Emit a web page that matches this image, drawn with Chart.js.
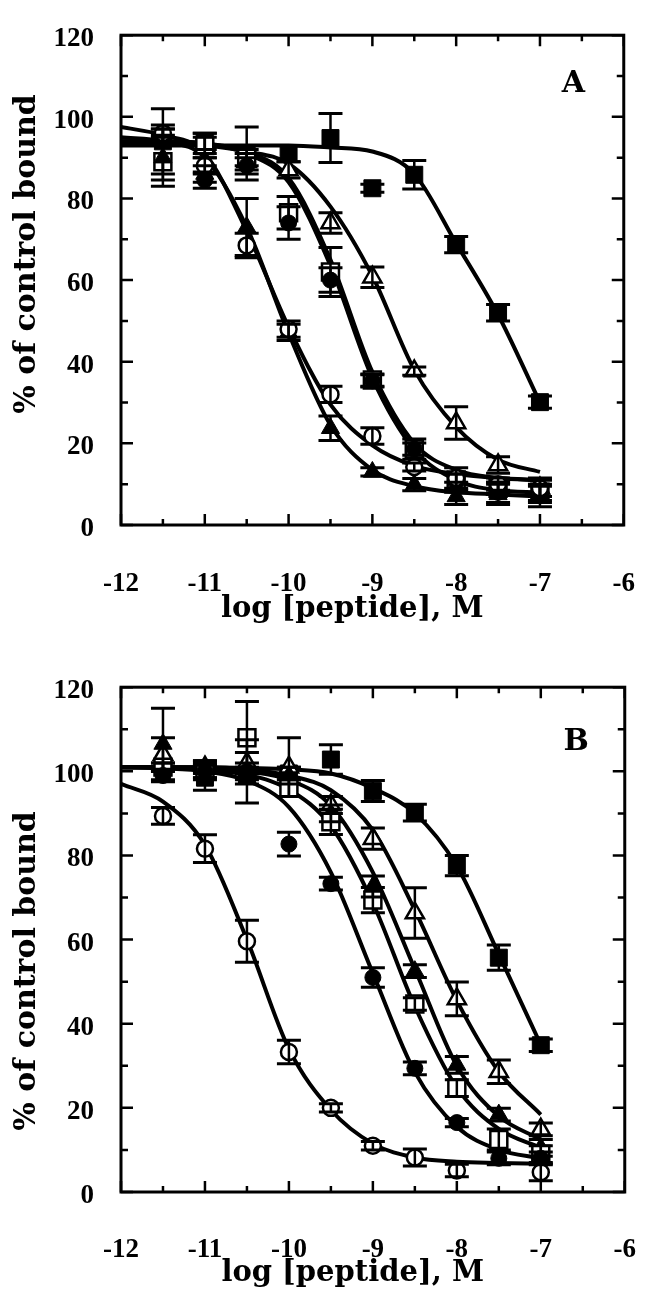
<!DOCTYPE html>
<html>
<head>
<meta charset="utf-8">
<script src="https://cdn.jsdelivr.net/npm/chart.js@4.4.1/dist/chart.umd.min.js"></script>
<style>
  body { margin: 0; background: #fff; }
  canvas { display: block; }
</style>
</head>
<body>
<canvas id="chartA" width="670" height="652"></canvas>
<canvas id="chartB" width="670" height="652"></canvas>
<script>
// log [peptide] values where binding was measured
const doses = [-11.5, -11, -10.5, -10, -9.5, -9, -8.5, -8, -7.5, -7];
const fitX = [-12, -11.5, -11, -10.5, -10, -9.5, -9, -8.5, -8, -7.5, -7];
const xTickValues = [-12, -11, -10, -9, -8, -7, -6];
const yTickValues = [0, 20, 40, 60, 80, 100, 120];

// ---- Panel A ----
const aOpenCircle     = [96, 88, 68.5, 48, 32, 21.8, 14.2, 11.5, 10, 9];
const aOpenCircleErr  = [2, 2, 3, 2, 2, 2, 1, 1, 1.5, 2];
const aOpenCircleFit  = [97.5, 95.5, 91, 72, 48.5, 29.5, 19.5, 14.5, 12.5, 11.5, 11];

const aFilledTri      = [90, 86, 73, 47.2, 23.7, 13, 9.9, 7, 7.5, 7.5];
const aFilledTriErr   = [5.5, 2, 7, 2, 3, 1, 1.5, 2, 2.5, 2];
const aFilledTriFit   = [95, 94, 90, 73, 47, 24.5, 13.5, 9.5, 8, 7.5, 7];

const aFilledCircle    = [95, 84.5, 88, 74, 60, 35.3, 18.6, 10.5, 8, 8];
const aFilledCircleErr = [2, 2, 2, 4, 3, 1.5, 2.5, 2, 2.5, 3.5];
const aFilledCircleFit = [94, 94, 93.5, 91, 84, 63.5, 36, 18.5, 11, 8.5, 8];

const aOpenSquare     = [89, 93, 90, 76.5, 62, 35.5, 18.6, 11, 9, 8];
const aOpenSquareErr  = [6, 3, 2, 4, 6, 1.5, 1.5, 3, 1.5, 2];
const aOpenSquareFit  = [94, 94, 93.5, 91.5, 85, 65, 37.5, 20, 13.5, 11.5, 11];

const aOpenTri        = [95, 93, 89, 87, 74, 60.7, 37.7, 25, 14.7, 9];
const aOpenTriErr     = [2, 2, 2, 2, 2.5, 2.5, 1, 4, 2, 2];
const aOpenTriFit     = [93.5, 93.5, 93, 91.5, 88.5, 78, 61, 38, 24, 16, 13];

const aFilledSquare    = [94, 94, 91, 91, 94.8, 82.5, 85.8, 68.7, 52, 30.1];
const aFilledSquareErr = [8, 2, 6.5, 2, 6, 1, 3.5, 2, 2, 1.5];
const aFilledSquareFit = [93, 93, 93, 93, 93, 92.5, 91.5, 86, 69, 51.5, 30];

// ---- Panel B ----
const bOpenCircle     = [89.4, 81.6, 59.6, 33.3, 20, 11, 8.2, 5.1, null, 4.7];
const bOpenCircleErr  = [2, 3.3, 5, 2.8, 1, 1, 2, 1.5, 0, 2];
const bOpenCircleFit  = [97, 92.8, 82.5, 60, 34, 19.5, 11.5, 8.2, 7.2, 6.9, 6.7];

const bFilledCircle    = [99, 100, 100, 82.7, 73.3, 51, 29.4, 16.5, 8, 8];
const bFilledCircleErr = [1.5, 1.5, 2, 2.8, 1.5, 2.3, 1.5, 1, 1.5, 1.5];
const bFilledCircleFit = [101, 100.7, 100, 97.8, 91.5, 76, 52, 28.5, 15.5, 10, 8];

const bOpenSquare     = [101, 100.5, 108, 96, 88, 69.4, 44.7, 24.7, 12.5, 9];
const bOpenSquareErr  = [1, 2, 8.6, 2, 3, 3, 1.5, 2, 2.5, 2];
const bOpenSquareFit  = [101, 101, 100.4, 99.2, 95.7, 87, 68.7, 44.1, 24.8, 15, 10.5];

const bFilledTri      = [106.5, 100, 100, 99, 90, 72.6, 52.5, 30.2, 18.4, 10.5];
const bFilledTriErr   = [8.5, 2, 7.5, 2, 2, 2.5, 1.5, 2, 1.5, 2];
const bFilledTriFit   = [101, 101, 100.8, 100, 98, 91.8, 76, 53, 30, 18, 12.5];

const bOpenTri        = [104, 101, 102, 101, 92, 84, 66.3, 45.9, 28.6, 14.9];
const bOpenTriErr     = [4, 1.5, 2.5, 7, 2, 2.5, 6, 4, 2.8, 1.5];
const bOpenTriFit     = [101, 101, 101, 100.5, 99, 95.5, 86, 67, 45.5, 28.6, 18.4];

const bFilledSquare    = [101, 98.5, 99, 99.5, 102.8, 95.3, 90.2, 77.6, 55.7, 34.9];
const bFilledSquareErr = [1, 3, 2, 1.5, 3.5, 2.5, 2, 2.4, 3, 1.5];
const bFilledSquareFit = [101, 101, 101, 100.8, 100.5, 99.5, 96, 90, 77.5, 56.5, 35];

const markerRadius = { circle: 8, rect: 12, triangle: 10.5 };

// one marker dataset plus its fitted curve
function seriesSets(values, errors, fit, style, filled) {
    return [
        {
            type: 'scatter',
            data: doses.map((d, i) => ({ x: d, y: values[i] })),
            errors: errors,
            pointStyle: style,
            pointRadius: markerRadius[style],
            backgroundColor: filled ? '#000' : '#fff',
            borderColor: '#000',
            borderWidth: filled ? 1 : 2.5,
            order: 0
        },
        {
            type: 'line',
            data: fitX.map((d, i) => ({ x: d, y: fit[i] })),
            borderColor: '#000',
            borderWidth: 4,
            pointRadius: 0,
            fill: false,
            cubicInterpolationMode: 'monotone',
            order: 1
        }
    ];
}

// error bars with caps, drawn on top of the markers
const errorBarPlugin = {
    id: 'errorBars',
    afterDatasetsDraw(chart) {
        const { ctx, scales: { x, y } } = chart;
        ctx.save();
        ctx.strokeStyle = '#000';
        chart.data.datasets.forEach(ds => {
            if (!ds.errors) return;
            ds.data.forEach((pt, i) => {
                const e = ds.errors[i];
                if (pt.y == null || !e) return;
                const px = x.getPixelForValue(pt.x);
                const top = y.getPixelForValue(pt.y + e);
                const bot = y.getPixelForValue(pt.y - e);
                ctx.lineWidth = 2.5;
                ctx.beginPath();
                ctx.moveTo(px, top);
                ctx.lineTo(px, bot);
                ctx.stroke();
                ctx.lineWidth = 3;
                ctx.beginPath();
                ctx.moveTo(px - 12, top);
                ctx.lineTo(px + 12, top);
                ctx.moveTo(px - 12, bot);
                ctx.lineTo(px + 12, bot);
                ctx.stroke();
            });
        });
        ctx.restore();
    }
};

// box around the plot with inward tick marks on all four sides
const framePlugin = {
    id: 'frame',
    afterDraw(chart) {
        const { ctx, chartArea: a, scales: { x, y } } = chart;
        ctx.save();
        ctx.strokeStyle = '#000';
        ctx.lineWidth = 3;
        ctx.strokeRect(a.left, a.top, a.right - a.left, a.bottom - a.top);
        ctx.lineWidth = 2.5;
        ctx.beginPath();
        for (let v = -12; v <= -6; v += 0.5) {
            const px = x.getPixelForValue(v);
            const len = Number.isInteger(v) ? 11 : 6;
            ctx.moveTo(px, a.bottom);
            ctx.lineTo(px, a.bottom - len);
            ctx.moveTo(px, a.top);
            ctx.lineTo(px, a.top + len);
        }
        for (let v = 0; v <= 120; v += 10) {
            const py = y.getPixelForValue(v);
            const len = v % 20 === 0 ? 12 : 7;
            ctx.moveTo(a.left, py);
            ctx.lineTo(a.left + len, py);
            ctx.moveTo(a.right, py);
            ctx.lineTo(a.right - len, py);
        }
        ctx.stroke();
        ctx.restore();
    }
};

// the "A" / "B" letter in the upper right corner
const panelLabelPlugin = {
    id: 'panelLabel',
    afterDraw(chart, args, opts) {
        const { ctx, scales: { x, y } } = chart;
        ctx.save();
        ctx.font = 'bold 30px "DejaVu Serif"';
        ctx.fillStyle = '#000';
        ctx.textAlign = 'center';
        ctx.textBaseline = 'middle';
        ctx.fillText(opts.text, x.getPixelForValue(opts.at[0]), y.getPixelForValue(opts.at[1]));
        ctx.restore();
    }
};

const tickFont = { family: '"Liberation Serif", serif', weight: 'bold', size: 27 };
const xTitleFont = { family: '"DejaVu Serif", serif', weight: 'bold', size: 29 };
const yTitleFont = { family: '"DejaVu Serif", serif', weight: 'bold', size: 30 };
const nb = n => '\u00a0'.repeat(n);

function makeChart(id, datasets, panel) {
    const ctx = document.getElementById(id).getContext('2d');
    return new Chart(ctx, {
        type: 'scatter',
        data: { datasets: datasets },
        plugins: [errorBarPlugin, framePlugin, panelLabelPlugin],
        options: {
            responsive: false,
            animation: false,
            devicePixelRatio: 1,
            layout: { padding: { top: panel.top, right: 16, bottom: 0, left: 0 } },
            plugins: {
                legend: { display: false },
                tooltip: { enabled: false },
                panelLabel: { text: panel.label, at: panel.labelAt }
            },
            scales: {
                x: {
                    type: 'linear',
                    min: -12,
                    max: -6,
                    grid: { display: false },
                    border: { display: false },
                    afterBuildTicks: s => { s.ticks = xTickValues.map(v => ({ value: v })); },
                    ticks: { padding: panel.xTickPad, font: tickFont, color: '#000', maxRotation: 0, autoSkip: false },
                    title: {
                        display: true,
                        text: 'log [peptide], M' + nb(4),
                        font: xTitleFont,
                        color: '#000',
                        padding: { top: 0, bottom: panel.xTitlePad }
                    },
                    afterFit: s => { s.height = panel.xHeight; }
                },
                y: {
                    type: 'linear',
                    min: 0,
                    max: 120,
                    grid: { display: false },
                    border: { display: false },
                    afterBuildTicks: s => { s.ticks = yTickValues.map(v => ({ value: v })); },
                    ticks: { padding: 19, labelOffset: 4, font: tickFont, color: '#000' },
                    title: {
                        display: true,
                        text: panel.yTitle,
                        font: yTitleFont,
                        color: '#000',
                        padding: { top: 9, bottom: 0 }
                    },
                    afterFit: s => { s.width = 121; }
                }
            }
        }
    });
}

makeChart('chartA', [
    ...seriesSets(aOpenCircle, aOpenCircleErr, aOpenCircleFit, 'circle', false),
    ...seriesSets(aFilledTri, aFilledTriErr, aFilledTriFit, 'triangle', true),
    ...seriesSets(aFilledCircle, aFilledCircleErr, aFilledCircleFit, 'circle', true),
    ...seriesSets(aOpenSquare, aOpenSquareErr, aOpenSquareFit, 'rect', false),
    ...seriesSets(aOpenTri, aOpenTriErr, aOpenTriFit, 'triangle', false),
    ...seriesSets(aFilledSquare, aFilledSquareErr, aFilledSquareFit, 'rect', true)
], {
    label: 'A', labelAt: [-6.6, 108], top: 20,
    xHeight: 127, xTickPad: 35, xTitlePad: 25,
    yTitle: nb(5) + '% of control bound'
});

makeChart('chartB', [
    ...seriesSets(bOpenCircle, bOpenCircleErr, bOpenCircleFit, 'circle', false),
    ...seriesSets(bFilledCircle, bFilledCircleErr, bFilledCircleFit, 'circle', true),
    ...seriesSets(bOpenSquare, bOpenSquareErr, bOpenSquareFit, 'rect', false),
    ...seriesSets(bFilledTri, bFilledTriErr, bFilledTriFit, 'triangle', true),
    ...seriesSets(bOpenTri, bOpenTriErr, bOpenTriFit, 'triangle', false),
    ...seriesSets(bFilledSquare, bFilledSquareErr, bFilledSquareFit, 'rect', true)
], {
    label: 'B', labelAt: [-6.58, 107], top: 30,
    xHeight: 112, xTickPad: 34, xTitlePad: 13,
    yTitle: '% of control bound' + nb(6)
});
</script>
</body>
</html>
